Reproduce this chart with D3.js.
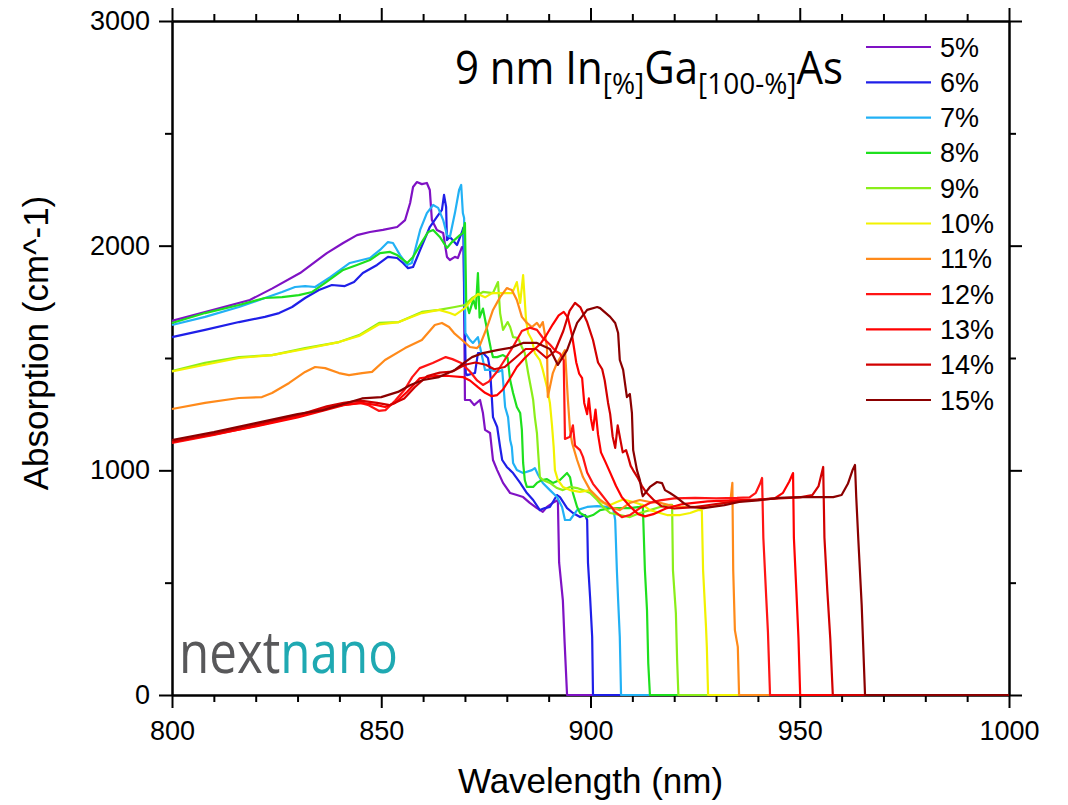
<!DOCTYPE html>
<html>
<head>
<meta charset="utf-8">
<script src="https://cdn.jsdelivr.net/npm/d3@7"></script>
<style>
  html, body { margin: 0; padding: 0; background: #fff; }
  svg { display: block; }
</style>
</head>
<body>
<svg id="chart" width="1068" height="805"></svg>
<script>
// Indium content of each well, one absorption spectrum per composition
const compositions = ["5%", "6%", "7%", "8%", "9%", "10%", "11%", "12%", "13%", "14%", "15%"];

// Absorption spectra: [wavelength (nm), absorption (cm^-1)]
const in05 = [[800,1665],[809,1710],[818.6,1758],[824,1810],[830.6,1878],[837,1967],[840.9,2012],[844.2,2047],[847.3,2061],[850.4,2070],[853.8,2083],[855.7,2114],[856.9,2190],[857.6,2261],[858.5,2283],[859.7,2274],[860.9,2279],[861.6,2248],[862.1,2114],[863.3,2070],[864.8,2056],[865.7,1950],[866.4,1936],[867.6,1950],[868.3,1945],[869.3,1994],[869.7,1985],[870.0,1313],[871.2,1313],[872.2,1290],[873.6,1313],[874.3,1255],[874.8,1180],[876.0,1166],[876.7,1046],[877.7,1001],[879.1,944],[880.8,899],[882.4,890],[883.9,881],[885.5,855],[887.2,832],[888.6,815],[889.6,837],[891.0,855],[892.2,868],[892.5,590],[893.4,420],[893.8,240],[894.4,0],[1000,0]];

const in06 = [[800,1593],[807.9,1625],[816,1660],[822.2,1683],[825.6,1700],[828.7,1727],[831.8,1767],[835.1,1803],[838.2,1825],[841.3,1820],[843.5,1838],[845.6,1878],[849,1914],[851.6,1950],[853.8,1945],[855.2,1923],[856.4,1900],[857.6,1905],[859.3,1981],[861.6,2083],[863.3,2128],[864.5,2159],[865,2226],[865.5,2172],[865.7,2025],[866.4,2039],[868.1,2003],[869.3,2061],[869.6,2080],[869.9,1700],[870.2,1433],[870.5,1424],[872.4,1433],[873.1,1522],[874.3,1522],[875.5,1500],[876,1447],[876.4,1330],[876.7,1237],[877.7,1193],[878.4,1104],[878.9,1046],[880,1015],[881.5,988],[883.2,944],[884.8,899],[886.3,868],[887.9,823],[889.1,832],[890.3,837],[892,890],[892.7,881],[894.4,832],[895.8,810],[897.5,792],[898.7,801],[899.2,779],[899.4,588],[899.9,436],[900.4,258],[900.6,0],[1000,0]];

const in07 = [[800,1647],[807.9,1683],[816,1727],[822.2,1767],[826.3,1794],[829.4,1816],[831.8,1820],[834.2,1816],[837.8,1860],[842.5,1923],[847.3,1945],[849.7,1981],[851.6,2016],[852.8,2012],[854.5,1958],[856.2,1914],[857.3,1923],[859.3,2070],[860.9,2145],[862.4,2181],[863.6,2168],[864.8,2114],[865.7,2047],[866.4,2039],[867.6,2145],[868.6,2248],[869.1,2270],[869.5,2145],[869.8,2123],[870.1,1611],[871.2,1580],[871.9,1567],[873.1,1593],[873.6,1549],[874.8,1447],[876,1447],[877.9,1438],[878.9,1447],[879.1,1402],[879.6,1282],[880.3,1237],[880.8,1135],[881.2,1104],[881.5,1033],[882.4,1001],[883.9,988],[886,1001],[886.7,1010],[887.5,979],[888.6,944],[890.3,912],[892,881],[893.2,837],[893.9,779],[895.1,779],[896.8,823],[899.2,837],[901.6,841],[903.9,837],[905.4,832],[905.9,779],[906.3,556],[906.6,423],[907,258],[907.3,0],[1000,0]];

const in08 = [[800,1656],[807.9,1700],[816,1736],[822.2,1767],[826.3,1771],[830.3,1780],[833.5,1794],[836.6,1834],[840.9,1892],[844.2,1914],[847.3,1936],[849.7,1967],[852.1,1972],[853.8,1958],[856.2,1923],[857.6,1950],[859.7,2016],[861.2,2061],[862.4,2070],[864,2039],[865.7,1990],[866.9,2016],[868.8,2047],[869.5,2056],[870.0,2101],[870.3,1750],[871.0,1700],[872.0,1760],[872.6,1720],[873.1,1878],[873.5,1680],[874.3,1720],[875.3,1625],[876.2,1540],[876.7,1504],[877.7,1504],[879.1,1513],[880.2,1500],[880.8,1402],[881.5,1344],[882.4,1282],[883.2,1255],[883.6,1180],[883.9,1033],[884.3,957],[884.8,926],[886.3,926],[887.2,944],[888.4,957],[889.6,961],[891,944],[892.7,957],[894.4,988],[895.1,970],[895.8,899],[896.8,837],[897.5,810],[899.2,792],[900.6,801],[902.3,823],[904.7,832],[907,832],[909.4,832],[911.8,837],[912.5,846],[913.0,556],[913.5,378],[913.8,142],[914.2,0],[1000,0]];

const in09 = [[800,1442],[807.9,1478],[816,1504],[823.9,1513],[831.8,1544],[839.9,1571],[844.7,1602],[849.5,1656],[854.2,1660],[859.7,1705],[863.8,1714],[867.6,1727],[870,1736],[871.7,1767],[874.3,1794],[876.7,1789],[877.9,1838],[878.4,1700],[879.1,1625],[880.2,1660],[880.8,1638],[881.5,1593],[882.7,1589],[883.6,1549],[884.3,1522],[885.1,1433],[886,1344],[886.3,1313],[886.7,1237],[887.2,1166],[887.5,1077],[887.9,970],[888.6,957],[890.3,944],[892,921],[893.4,912],[895.1,926],[896.8,921],[898.2,912],[899.9,899],[901.6,868],[903,837],[904.7,810],[907,801],[909.4,792],[911.8,810],[914.2,823],[916.6,837],[919,846],[919.5,846],[919.7,556],[920.4,365],[920.7,156],[921.0,0],[1000,0]];

const in10 = [[800,1440],[807.9,1470],[816,1500],[823.9,1513],[831.8,1540],[839.9,1571],[844.7,1598],[849.5,1650],[854.2,1660],[859.7,1700],[863.8,1714],[866.4,1700],[867.6,1691],[870,1722],[871.7,1760],[873.1,1785],[874.8,1770],[876.5,1789],[878.4,1789],[880,1789],[881.3,1789],[882.4,1838],[883.2,1745],[883.9,1869],[884.6,1669],[885.1,1611],[886,1580],[886.7,1522],[887.9,1491],[888.6,1447],[889.6,1371],[890.3,1300],[890.8,1200],[891.2,1104],[891.5,1001],[892.2,957],[893.4,926],[895.1,912],[897.5,904],[899.9,912],[901.6,881],[903,855],[904.7,846],[906.3,859],[907.8,870],[910.2,859],[912.5,846],[914.2,823],[916.6,810],[918.3,801],[921.4,801],[923.8,810],[925.7,823],[926.6,823],[926.9,556],[927.6,303],[927.8,214],[928.1,0],[1000,0]];

const in11 = [[800,1273],[807.9,1300],[816,1322],[821.5,1326],[823.9,1344],[828,1389],[831.8,1438],[834.2,1460],[836.6,1455],[839.9,1433],[842.3,1424],[845.4,1433],[847.8,1438],[850.9,1491],[855.7,1544],[859.7,1580],[862.8,1647],[864.5,1656],[866.2,1638],[867.4,1611],[869.3,1580],[871.2,1549],[872.9,1544],[873.6,1558],[875.3,1638],[876.7,1714],[878.4,1771],[880,1811],[881.2,1803],[882.4,1758],[883.6,1683],[884.8,1656],[886,1638],[887.2,1656],[887.9,1638],[888.6,1660],[889.6,1549],[889.8,1326],[890.3,1371],[891,1433],[892,1478],[892.7,1500],[893.4,1520],[893.9,1535],[894.6,1313],[895.1,1180],[895.6,1122],[896.8,1046],[898.2,970],[899.9,912],[902.3,868],[904.7,837],[907,823],[909.4,855],[911.8,868],[914.2,859],[916.6,855],[920.7,837],[923.8,837],[928.6,837],[931.7,855],[933.4,859],[933.9,944],[934.1,556],[934.5,289],[935.2,214],[935.5,0],[1000,0]];

const in12 = [[800,1122],[810,1158],[820,1198],[830,1240],[837,1280],[841,1291],[845,1300],[847,1290],[849.4,1265],[851,1268],[853.3,1310],[855.6,1360],[857.4,1415],[859.2,1455],[862.3,1478],[865.4,1504],[867,1495],[869.1,1478],[871.2,1440],[872.9,1400],[874.3,1380],[875.7,1395],[877.7,1440],[879.1,1480],[881.5,1550],[883.6,1620],[885.5,1635],[887.2,1625],[888.6,1590],[890.3,1560],[891.7,1530],[892.7,1520],[893.6,1490],[893.9,1140],[895.1,1150],[895.8,1200],[896.3,1110],[897.5,1090],[898.2,1060],[899.2,990],[900.6,940],[902.3,900],[904.2,855],[905.9,815],[907.5,792],[909.4,801],[911.8,832],[914.2,855],[916.6,866],[920,875],[925,877],[930,875],[935,877],[938,880],[939.5,900],[940.5,940],[941,966],[941.3,700],[942,430],[942.4,280],[942.9,0],[1000,0]];

const in13 = [[800,1125],[810,1160],[820,1195],[830,1235],[837,1270],[841,1290],[845.4,1300],[849,1290],[850.9,1282],[853.3,1300],[856.2,1350],[859.2,1410],[862.8,1420],[866.2,1420],[869.5,1415],[871.2,1400],[873.1,1370],[874.8,1345],[876.4,1330],[877.7,1335],[879.1,1360],[880.8,1410],[882.4,1460],[884.3,1500],[886,1530],[887.9,1560],[889.4,1600],[891,1650],[892.4,1690],[893.6,1705],[894.6,1680],[895.6,1600],[896.1,1540],[896.6,1480],[897.3,1430],[898,1410],[898.5,1300],[899.2,1250],[899.6,1320],[900.1,1230],[900.6,1180],[901.2,1270],[901.8,1160],[902.5,1080],[903.5,1040],[904.7,990],[906.1,930],[907.5,880],[909.4,840],[911.4,805],[913,795],[915,805],[918,830],[922,850],[928,862],[934,866],[940,870],[944,875],[946,900],[947.5,950],[948.4,988],[948.6,700],[949.2,460],[949.7,250],[950.1,0],[1000,0]];

const in14 = [[800,1128],[810,1163],[820,1203],[830,1245],[837,1285],[841,1300],[845,1310],[849,1300],[852,1290],[855.5,1320],[858,1370],[861,1420],[864,1435],[867,1440],[870,1470],[872.5,1480],[875,1470],[877,1450],[879.5,1460],[882,1500],[884.5,1540],[887,1540],[889.5,1500],[891.5,1530],[893.5,1620],[895,1710],[896.3,1745],[897.6,1725],[899.2,1660],[900.6,1580],[901.8,1480],[902.8,1450],[903.4,1400],[904.2,1300],[904.7,1250],[905.3,1150],[905.9,1100],[906.5,1200],[907,1150],[907.7,1080],[908.5,1090],[909,1060],[909.6,1020],[910.2,1000],[911.2,970],[912.3,930],[913.4,900],[915,870],[917,840],[920,830],[925,836],[930,850],[935,862],[940,870],[945,875],[950,880],[953,890],[954.5,930],[955.6,1015],[955.9,700],[956.6,460],[957.3,250],[957.9,0],[1000,0]];

const in15 = [[800,1135],[810,1170],[820,1210],[830,1250],[836,1268],[841,1295],[845.4,1320],[850,1326],[854,1349],[857,1380],[860,1402],[863.8,1415],[867.6,1447],[870,1482],[871.7,1504],[874.3,1522],[877.7,1535],[880.8,1545],[883.9,1567],[887.2,1567],[890.3,1540],[892.2,1469],[894.4,1535],[896.8,1656],[899.2,1714],[901.6,1727],[902.3,1722],[904.7,1683],[905.9,1656],[906.6,1611],[907,1491],[907.8,1447],[908.7,1326],[909.4,1340],[909.9,1255],[910.2,1090],[911.1,1001],[911.8,957],[912.3,899],[912.5,885],[914.2,926],[915.9,948],[917.1,943],[917.8,912],[919,899],[920.5,881],[922.2,855],[923.8,837],[927,832],[932,845],[935.5,859],[940,866],[945,877],[950,881],[955,881],[958,881],[960,890],[961.5,940],[962.6,1000],[963.2,1024],[963.5,880],[964,690],[964.8,400],[965.6,0],[1000,0]];

const spectra = [in05, in06, in07, in08, in09, in10, in11, in12, in13, in14, in15];

// Axis ticks
const xMajorTicks = [800, 850, 900, 950, 1000];
const xMinorTicks = [810, 820, 830, 840, 860, 870, 880, 890, 910, 920, 930, 940, 960, 970, 980, 990];
const yMajorTicks = [0, 1000, 2000, 3000];
const yMinorTicks = [500, 1500, 2500];

// Line colours, violet through dark red
const lineColors = ["#7f12c4", "#1f1fe8", "#22b1f5", "#1ee01e", "#8aee1a", "#f2f200",
                    "#ff8a1a", "#ff1414", "#ff0000", "#d20000", "#8b0000"];

const svg = d3.select("#chart");
const frame = { left: 172, right: 1009, top: 21, bottom: 695 };
const axisFont = "'Liberation Sans', Arial, sans-serif";

const x = d3.scaleLinear().domain([800, 1000]).range([frame.left, frame.right]);
const y = d3.scaleLinear().domain([0, 3000]).range([frame.bottom, frame.top]);

function styleAxis(g) {
  g.selectAll(".domain").attr("stroke", "#000").attr("stroke-width", 2);
  g.selectAll(".tick line").attr("stroke", "#000").attr("stroke-width", 2);
  g.selectAll(".tick text").attr("font-family", axisFont).attr("font-size", 27).attr("fill", "#000");
}

// Minor ticks first, then major ticks with the frame lines
svg.append("g").attr("transform", `translate(0,${frame.bottom})`)
  .call(d3.axisBottom(x).tickValues(xMinorTicks).tickSize(7).tickSizeOuter(0).tickFormat(""))
  .call(styleAxis);
svg.append("g").attr("transform", `translate(0,${frame.top})`)
  .call(d3.axisTop(x).tickValues(xMinorTicks).tickSize(7).tickSizeOuter(0).tickFormat(""))
  .call(styleAxis);
svg.append("g").attr("transform", `translate(${frame.left},0)`)
  .call(d3.axisLeft(y).tickValues(yMinorTicks).tickSize(7).tickSizeOuter(0).tickFormat(""))
  .call(styleAxis);
svg.append("g").attr("transform", `translate(${frame.right},0)`)
  .call(d3.axisRight(y).tickValues(yMinorTicks).tickSize(7).tickSizeOuter(0).tickFormat(""))
  .call(styleAxis);

svg.append("g").attr("transform", `translate(0,${frame.bottom})`)
  .call(d3.axisBottom(x).tickValues(xMajorTicks).tickSize(13).tickSizeOuter(0).tickPadding(13).tickFormat(d3.format("d")))
  .call(styleAxis);
svg.append("g").attr("transform", `translate(0,${frame.top})`)
  .call(d3.axisTop(x).tickValues(xMajorTicks).tickSize(13).tickSizeOuter(0).tickFormat(""))
  .call(styleAxis);
svg.append("g").attr("transform", `translate(${frame.left},0)`)
  .call(d3.axisLeft(y).tickValues(yMajorTicks).tickSize(13).tickSizeOuter(0).tickPadding(9).tickFormat(d3.format("d")))
  .call(styleAxis);
svg.append("g").attr("transform", `translate(${frame.right},0)`)
  .call(d3.axisRight(y).tickValues(yMajorTicks).tickSize(13).tickSizeOuter(0).tickFormat(""))
  .call(styleAxis);

// Axis titles
svg.append("text")
  .attr("x", (frame.left + frame.right) / 2).attr("y", 793)
  .attr("text-anchor", "middle")
  .attr("font-family", axisFont).attr("font-size", 35).attr("fill", "#000")
  .text("Wavelength (nm)");
svg.append("text")
  .attr("transform", "translate(48,343) rotate(-90)")
  .attr("text-anchor", "middle")
  .attr("font-family", axisFont).attr("font-size", 35).attr("fill", "#000")
  .text("Absorption (cm^-1)");

// Spectra
const line = d3.line().x(d => x(d[0])).y(d => y(d[1]));
svg.append("g").selectAll("path")
  .data(spectra)
  .join("path")
  .attr("d", line)
  .attr("fill", "none")
  .attr("stroke", (d, i) => lineColors[i])
  .attr("stroke-width", 2.2)
  .attr("stroke-linejoin", "round");

// Helper: stretch a text element horizontally to a given width
function fitWidth(sel, left, width) {
  const bb = sel.node().getBBox();
  const s = width / bb.width;
  sel.attr("transform", `translate(${left},0) scale(${s},1) translate(${-bb.x},0)`);
}

// Title with subscripts
const titleFont = "'Open Sans', 'Noto Sans', sans-serif";
const title = svg.append("text")
  .attr("x", 455).attr("y", 84)
  .attr("font-family", titleFont).attr("font-size", 45).attr("fill", "#000");
title.append("tspan").text("9 nm In");
title.append("tspan").attr("font-size", 30).attr("dy", 10).text("[%]");
title.append("tspan").attr("font-size", 45).attr("dy", -10).text("Ga");
title.append("tspan").attr("font-size", 30).attr("dy", 10).text("[100-%]");
title.append("tspan").attr("font-size", 45).attr("dy", -10).text("As");
fitWidth(title, 455, 388);

// Legend
const legend = svg.append("g");
compositions.forEach((label, i) => {
  const ly = 47 + i * 35.3;
  legend.append("line")
    .attr("x1", 866).attr("x2", 931).attr("y1", ly).attr("y2", ly)
    .attr("stroke", lineColors[i]).attr("stroke-width", 2.2);
  legend.append("text")
    .attr("x", 940).attr("y", ly + 9.5)
    .attr("font-family", axisFont).attr("font-size", 27).attr("fill", "#000")
    .text(label);
});

// Logo
const logo = svg.append("text")
  .attr("x", 179).attr("y", 673)
  .attr("font-family", "'Open Sans', sans-serif").attr("font-size", 58);
logo.append("tspan").attr("fill", "#58585a").text("next");
logo.append("tspan").attr("fill", "#1fa9b2").text("nano");
fitWidth(logo, 179, 219);
</script>
</body>
</html>
